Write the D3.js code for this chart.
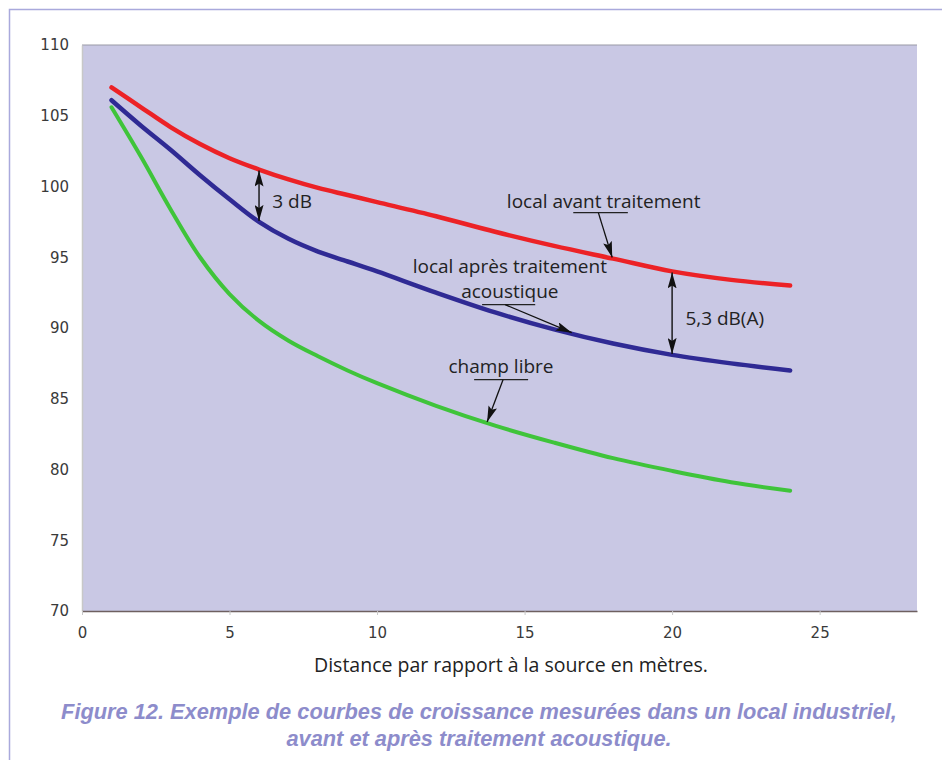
<!DOCTYPE html>
<html>
<head>
<meta charset="utf-8">
<script src="https://cdn.jsdelivr.net/npm/d3@7"></script>
<style>
body { margin: 0; background: #fff; }
svg { display: block; }
</style>
</head>
<body>
<svg width="942" height="760"></svg>
<script>
// distances (m) and measured levels dB(A)
const distances = [1, 2, 3, 4, 5, 6, 7, 8, 9, 10, 12, 14, 16, 18, 20, 22, 24];
const avantTraitement = [107.0, 105.6, 104.2, 103.0, 102.0, 101.2, 100.5, 99.9, 99.4, 98.9, 97.9, 96.8, 95.8, 94.9, 94.0, 93.4, 93.0];
const apresTraitement = [106.1, 104.3, 102.6, 100.8, 99.1, 97.5, 96.3, 95.4, 94.7, 94.0, 92.5, 91.1, 89.9, 88.9, 88.1, 87.5, 87.0];
const champLibre = [105.6, 102.1, 98.4, 95.0, 92.4, 90.5, 89.1, 88.0, 87.0, 86.1, 84.5, 83.1, 81.9, 80.8, 79.9, 79.1, 78.5];

const yTicks = [70, 75, 80, 85, 90, 95, 100, 105, 110];
const xTicks = [0, 5, 10, 15, 20, 25];

const xTitle = "Distance par rapport à la source en mètres.";
const caption = [
	"Figure 12. Exemple de courbes de croissance mesurées dans un local industriel,",
	"avant et après traitement acoustique.",
];

const series = [
	{ name: "avant", values: avantTraitement, color: "#ec2226", width: 4.5 },
	{ name: "apres", values: apresTraitement, color: "#2f2a94", width: 4.5 },
	{ name: "libre", values: champLibre, color: "#3fc43a", width: 4 },
];

const svg = d3.select("svg");
const plot = { left: 82, right: 917, top: 45, bottom: 611 };

const x = d3.scaleLinear().domain([0, 28.3]).range([plot.left, plot.right]);
const y = d3.scaleLinear().domain([70, 110]).range([plot.bottom, plot.top]);

// value of a series at distance d (linear between readings)
const valueAt = (values, d) => {
	const i = Math.max(1, Math.min(distances.length - 1, d3.bisectLeft(distances, d)));
	const t = (d - distances[i - 1]) / (distances[i] - distances[i - 1]);
	return values[i - 1] + t * (values[i] - values[i - 1]);
};

// page frame
svg.append("path")
	.attr("d", "M9.5,760 V9.5 H942")
	.attr("fill", "none")
	.attr("stroke", "#a9a9dc")
	.attr("stroke-width", 1.5);

// plot background
svg.append("rect")
	.attr("x", plot.left)
	.attr("y", plot.top)
	.attr("width", plot.right - plot.left)
	.attr("height", plot.bottom - plot.top)
	.attr("fill", "#c9c8e4");

svg.append("line")
	.attr("x1", plot.left).attr("x2", plot.right)
	.attr("y1", plot.top).attr("y2", plot.top)
	.attr("stroke", "#9a9aa6").attr("stroke-width", 1.2);

// axes
const yAxis = svg.append("g")
	.attr("transform", `translate(${plot.left},0)`)
	.call(d3.axisLeft(y).tickValues(yTicks).tickSize(0).tickPadding(13));
yAxis.select(".domain").attr("stroke", "#c8c8c8").attr("stroke-width", 1.5);
yAxis.selectAll("text")
	.attr("font-family", "DejaVu Sans, sans-serif")
	.attr("font-size", 15)
	.attr("fill", "#3a3a3a");

const xAxis = svg.append("g")
	.attr("transform", `translate(0,${plot.bottom})`)
	.call(d3.axisBottom(x).tickValues(xTicks).tickSize(4).tickPadding(12).tickSizeOuter(0));
xAxis.select(".domain").attr("stroke", "#6e6060").attr("stroke-width", 1.5);
xAxis.selectAll(".tick line").attr("stroke", "#c8c8c8");
xAxis.selectAll("text")
	.attr("font-family", "DejaVu Sans, sans-serif")
	.attr("font-size", 15)
	.attr("fill", "#3a3a3a");

// curves
const line = d3.line()
	.x((d, i) => x(distances[i]))
	.y((d) => y(d))
	.curve(d3.curveCatmullRom.alpha(0.5));

svg.append("g")
	.selectAll("path")
	.data(series)
	.join("path")
	.attr("d", (d) => line(d.values))
	.attr("fill", "none")
	.attr("stroke", (d) => d.color)
	.attr("stroke-width", (d) => d.width)
	.attr("stroke-linecap", "round");

// arrow markers
const defs = svg.append("defs");
defs.append("marker")
	.attr("id", "head")
	.attr("markerUnits", "userSpaceOnUse")
	.attr("viewBox", "0 0 16 9")
	.attr("refX", 16).attr("refY", 4.5)
	.attr("markerWidth", 16).attr("markerHeight", 9)
	.attr("orient", "auto-start-reverse")
	.append("path")
	.attr("d", "M0,0 L16,4.5 L0,9 L3,4.5 Z")
	.attr("fill", "#111");

const annoFont = "Open Sans, DejaVu Sans, sans-serif";
const anno = svg.append("g");

// level differences between the two room curves
const gaps = [
	{ at: 6, label: "3 dB", lx: 6.45, ly: 98.5 },
	{ at: 20, label: "5,3 dB(A)", lx: 20.45, ly: 90.2 },
];
gaps.forEach((g) => {
	anno.append("line")
		.attr("x1", x(g.at)).attr("x2", x(g.at))
		.attr("y1", y(valueAt(avantTraitement, g.at)) + 1)
		.attr("y2", y(valueAt(apresTraitement, g.at)) - 1)
		.attr("stroke", "#111").attr("stroke-width", 1.4)
		.attr("marker-start", "url(#head)")
		.attr("marker-end", "url(#head)");
	anno.append("text")
		.attr("x", x(g.lx)).attr("y", y(g.ly))
		.attr("font-family", annoFont).attr("font-size", 19)
		.attr("fill", "#222")
		.text(g.label);
});

// curve labels with underline and pointer
const pointers = [
	{ lines: ["local avant traitement"], cx: 17.68, ly: 98.45, u: [16.65, 18.5], uy: 98.15, from: 17.5, to: 17.97, values: avantTraitement },
	{ lines: ["local après traitement", "acoustique"], cx: 14.5, ly: 93.9, u: [13.56, 15.36], uy: 91.65, from: 14.34, to: 16.6, values: apresTraitement },
	{ lines: ["champ libre"], cx: 14.2, ly: 86.8, u: [13.29, 15.12], uy: 86.35, from: 14.27, to: 13.73, values: champLibre },
];
pointers.forEach((p) => {
	p.lines.forEach((t, i) => {
		anno.append("text")
			.attr("x", x(p.cx)).attr("y", y(p.ly) + i * 25)
			.attr("text-anchor", "middle")
			.attr("font-family", annoFont).attr("font-size", 19)
			.attr("fill", "#222")
			.text(t);
	});
	anno.append("line")
		.attr("x1", x(p.u[0])).attr("x2", x(p.u[1]))
		.attr("y1", y(p.uy)).attr("y2", y(p.uy))
		.attr("stroke", "#222").attr("stroke-width", 1.3);
	anno.append("line")
		.attr("x1", x(p.from)).attr("y1", y(p.uy))
		.attr("x2", x(p.to)).attr("y2", y(valueAt(p.values, p.to)) - 1)
		.attr("stroke", "#111").attr("stroke-width", 1.3)
		.attr("marker-end", "url(#head)");
});

// titles
svg.append("text")
	.attr("x", 511)
	.attr("y", 672)
	.attr("text-anchor", "middle")
	.attr("font-family", "Open Sans, sans-serif")
	.attr("font-size", 19.5)
	.attr("fill", "#222")
	.text(xTitle);

svg.append("g")
	.selectAll("text")
	.data(caption)
	.join("text")
	.attr("x", 479)
	.attr("y", (d, i) => 719 + i * 27)
	.attr("text-anchor", "middle")
	.attr("font-family", "Liberation Sans, sans-serif")
	.attr("font-size", 21.8)
	.attr("font-weight", "bold")
	.attr("font-style", "italic")
	.attr("fill", "#8d8ccb")
	.text((d) => d);
</script>
</body>
</html>
